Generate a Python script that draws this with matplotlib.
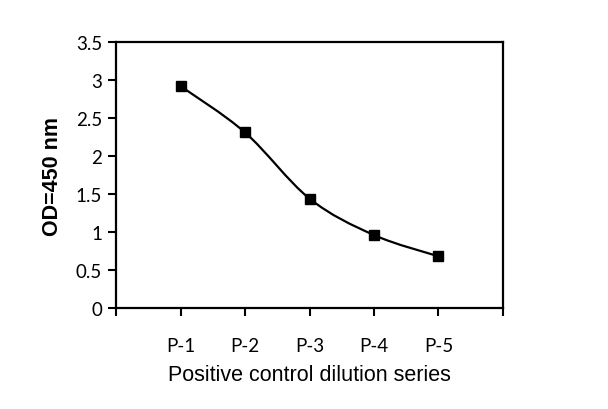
import numpy as np
import matplotlib
matplotlib.use('Agg')
import matplotlib.pyplot as plt
from matplotlib.path import Path
from matplotlib.patches import PathPatch

# data
categories = ['P-1', 'P-2', 'P-3', 'P-4', 'P-5']
od_values = [2.92, 2.31, 1.44, 0.96, 0.68]
yticks = [0, 0.5, 1, 1.5, 2, 2.5, 3, 3.5]
ytick_labels = ['0', '0.5', '1', '1.5', '2', '2.5', '3', '3.5']

fig = plt.figure(figsize=(6.08, 4.10), dpi=100)
ax = fig.add_axes([0.1908, 0.2463, 0.6365, 0.6488])

x = np.arange(1, len(categories) + 1, dtype=float)
y = np.array(od_values)

# Excel-style smoothed line: cubic bezier through points
pts = np.column_stack([x, y])
verts = [pts[0]]
codes = [Path.MOVETO]
n = len(pts)
for i in range(n - 1):
  p0 = pts[max(i - 1, 0)]
  p1 = pts[i]
  p2 = pts[i + 1]
  p3 = pts[min(i + 2, n - 1)]
  c1 = p1 + (p2 - p0) / 6.0
  c2 = p2 - (p3 - p1) / 6.0
  verts += [c1, c2, p2]
  codes += [Path.CURVE4] * 3
ax.add_patch(PathPatch(Path(verts, codes), facecolor='none', edgecolor='black', lw=1.6, zorder=2))
ax.plot(x, y, linestyle='none', marker='s', markersize=6.5, color='black', zorder=3)

ax.set_xlim(0, 6)
ax.set_ylim(0, 3.5)
ax.set_xticks(np.arange(0, 7))
ax.set_xticklabels([''] + categories + [''], fontname='Lato', fontsize=13.5, color='#222222')
ax.set_yticks(yticks)
ax.set_yticklabels(ytick_labels, fontname='Lato', fontsize=13.5, color='#222222')
ax.tick_params(axis='both', direction='out', length=6, width=1.5, colors='black')
ax.tick_params(axis='x', pad=15)
ax.tick_params(axis='y', pad=4)
for s in ax.spines.values():
  s.set_linewidth(1.6)

ax.set_xlabel('Positive control dilution series', fontname='Liberation Sans', fontsize=15.5, labelpad=7)
ax.set_ylabel('OD=450 nm', fontname='Liberation Sans', fontweight='bold', fontsize=15.5, labelpad=9)

fig.savefig('out.png', dpi=100)
